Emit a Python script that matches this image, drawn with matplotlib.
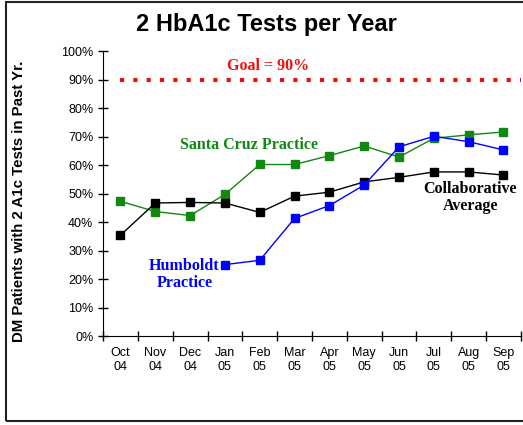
import numpy as np
import matplotlib
matplotlib.use('Agg')
import matplotlib.pyplot as plt
from matplotlib.patches import Rectangle

months = ['Oct\n04', 'Nov\n04', 'Dec\n04', 'Jan\n05', 'Feb\n05', 'Mar\n05',
          'Apr\n05', 'May\n05', 'Jun\n05', 'Jul\n05', 'Aug\n05', 'Sep\n05']
collab_avg = [35.4, 46.7, 46.9, 46.7, 43.4, 49.1, 50.5, 54.1, 55.7, 57.6, 57.6, 56.5]
santa_cruz = [47.3, 43.7, 42.3, 49.7, 60.2, 60.2, 63.3, 66.7, 62.8, 69.4, 70.6, 71.6]
humboldt = [np.nan, np.nan, np.nan, 25.1, 26.6, 41.3, 45.8, 53.0, 66.4, 70.1, 68.2, 65.3]
goal = 90

plt.rcParams['font.family'] = 'Liberation Sans'

fig = plt.figure(figsize=(5.23, 4.25), dpi=100)
ax = fig.add_axes([0.197, 0.209, 0.799, 0.671])

x = np.arange(len(months))

# goal line
ax.plot([x[0], x[-1] + 0.5], [goal, goal], color='#ee1111', lw=3,
        linestyle=(0, (1, 2.2)), dash_capstyle='butt')

ax.plot(x, santa_cruz, color='#118811', lw=1, marker='s', ms=6,
        mfc='#118811', mec='#118811')
ax.plot(x, collab_avg, color='black', lw=1, marker='s', ms=6,
        mfc='black', mec='black')
ax.plot(x, humboldt, color='#0000ff', lw=1, marker='s', ms=6,
        mfc='#0000ff', mec='#0000ff')

serif = 'Liberation Serif'
ax.text(4.25, 92, 'Goal = 90%', color='#ee1111', fontsize=11.5, fontweight='bold',
        family=serif, ha='center', va='bottom')
ax.text(3.7, 67, 'Santa Cruz Practice', color='#118811', fontsize=11.5,
        fontweight='bold', family=serif, ha='center', va='center')
ax.text(1.84, 21.5, 'Humboldt\nPractice', color='#0000ff', fontsize=11.5,
        fontweight='bold', family=serif, ha='center', va='center',
        linespacing=1.1)
ax.text(10.05, 48.5, 'Collaborative\nAverage', color='black', fontsize=11.5,
        fontweight='bold', family=serif, ha='center', va='center',
        linespacing=1.1)

ax.set_xlim(-0.5, 11.5)
ax.set_ylim(0, 100)
ax.set_yticks(np.arange(0, 101, 10))
ax.set_yticklabels(['%d%%' % v for v in range(0, 101, 10)], fontsize=9)
ax.set_xticks(np.arange(-0.5, 12, 1))
ax.set_xticklabels([])
ax.set_xticks(x, minor=True)
ax.set_xticklabels(months, minor=True, fontsize=9)
ax.tick_params(axis='x', which='minor', length=0, pad=8)
ax.tick_params(axis='both', which='major', direction='inout', length=7, width=1)
ax.spines['top'].set_visible(False)
ax.spines['right'].set_visible(False)
ax.set_ylabel('DM Patients with 2 A1c Tests in Past Yr.', fontsize=10.8,
              fontweight='bold')
ax.yaxis.set_label_coords(-0.184, 0.474)

fig.suptitle('2 HbA1c Tests per Year', fontsize=17, fontweight='bold',
             x=0.51, y=0.97)

# outer frame like the chart area border
fig.patches.append(Rectangle((0.011, 0.01), 1.05, 0.985, transform=fig.transFigure,
                             fill=False, edgecolor='#222222', lw=1.5))

fig.savefig('out.png', dpi=100)
